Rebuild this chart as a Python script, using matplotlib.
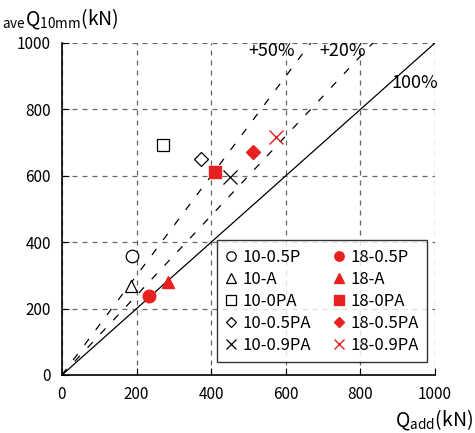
import matplotlib.pyplot as plt
import numpy as np

plt.rcParams['font.family'] = ['Noto Sans CJK JP', 'DejaVu Sans']
plt.rcParams['mathtext.fontset'] = 'custom'
plt.rcParams['mathtext.rm'] = 'Noto Sans CJK JP'

labels_10 = ['10-0.5P', '10-A', '10-0PA', '10-0.5PA', '10-0.9PA']
x_10 = [188, 185, 271, 373, 450]
y_10 = [358, 268, 692, 651, 596]

labels_18 = ['18-0.5P', '18-A', '18-0PA', '18-0.5PA', '18-0.9PA']
x_18 = [233, 284, 410, 512, 574]
y_18 = [238, 280, 611, 671, 717]

markers = ['o', '^', 's', 'D', 'x']
sizes = [9, 9, 9, 7, 10]
red = '#e8201f'

ratios = [1.0, 1.2, 1.5]

fig = plt.figure(figsize=(4.75, 4.33), dpi=100)
ax = fig.add_axes([0.1305, 0.134, 0.7853, 0.7667])

xs = np.array([0, 1000])
ax.plot(xs, xs * ratios[0], color='black', lw=0.9, zorder=2)
for r in ratios[1:]:
    ax.plot(xs, xs * r, color='black', lw=0.9, ls=(0, (6, 9)), zorder=2)

handles = []
for i in range(5):
    h, = ax.plot(x_10[i], y_10[i], ls='none', marker=markers[i], ms=sizes[i],
                 mfc='white', mec='black', mew=0.9, color='black',
                 label=labels_10[i], zorder=3)
    handles.append(h)
for i in range(5):
    if markers[i] == 'x':
        h, = ax.plot(x_18[i], y_18[i], ls='none', marker='x', ms=sizes[i],
                     color=red, mew=1.0, label=labels_18[i], zorder=3)
    else:
        h, = ax.plot(x_18[i], y_18[i], ls='none', marker=markers[i],
                     ms=sizes[i], mfc=red, mec=red, color=red,
                     label=labels_18[i], zorder=3)
    handles.append(h)

ax.set_xlim(0, 1000)
ax.set_ylim(0, 1000)
ax.set_xticks(range(0, 1001, 200))
ax.set_yticks(range(0, 1001, 200))
ax.grid(True, color='#666666', ls=(0, (4, 4)), lw=0.9)
ax.tick_params(direction='in', length=5, labelsize=11, pad=8)
for s in ['top', 'right']:
    ax.spines[s].set_visible(False)
for s in ['left', 'bottom']:
    ax.spines[s].set_linewidth(1.2)

ax.text(563, 975, '+50%', fontsize=13, ha='center', va='center')
ax.text(753, 975, '+20%', fontsize=13, ha='center', va='center')
ax.text(946, 880, '100%', fontsize=13, ha='center', va='center')

leg = ax.legend(handles=handles, ncol=2, loc='lower right',
                bbox_to_anchor=(0.979, 0.039), borderaxespad=0,
                fontsize=12, frameon=True,
                fancybox=False, edgecolor='black', handlelength=0.7,
                handletextpad=0.35, columnspacing=1.3, labelspacing=0.3,
                borderpad=0.5, markerscale=0.75)
leg.get_frame().set_linewidth(1.0)

fig.text(0.005, 0.955, r'$_{\mathrm{ave}}$Q$_{\mathrm{10mm}}$(kN)', fontsize=14,
         ha='left', va='center')
fig.text(0.995, 0.03, r'Q$_{\mathrm{add}}$(kN)', fontsize=14,
         ha='right', va='center')

fig.savefig('out.png', dpi=100)
